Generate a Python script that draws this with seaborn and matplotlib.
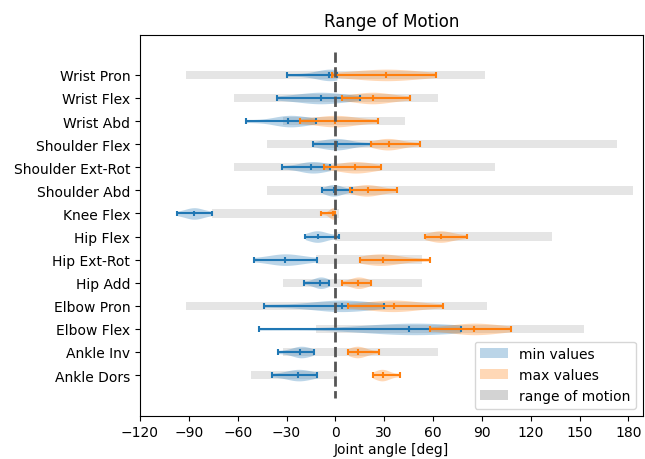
import numpy as np
import pandas as pd
import matplotlib
matplotlib.use("Agg")
import matplotlib.pyplot as plt
from matplotlib.patches import Patch
import seaborn as sns

# joints, top to bottom
joints = ["Wrist Pron", "Wrist Flex", "Wrist Abd", "Shoulder Flex", "Shoulder Ext-Rot",
          "Shoulder Abd", "Knee Flex", "Hip Flex", "Hip Ext-Rot", "Hip Add",
          "Elbow Pron", "Elbow Flex", "Ankle Inv", "Ankle Dors"]

# normal range of motion (gray bars)
range_lo = [-92, -62, -32, -42, -62, -42, -76, 0, -12, -32, -92, -12, -32, -52]
range_hi = [92, 63, 43, 173, 98, 183, 2, 133, 53, 53, 93, 153, 63, 1]

# measured minimum angles per joint
min_values = [
    [-30, -14, -7, -4, -2, 0, 1],
    [-36, -20, -14, -9, -5, 2, 15],
    [-55, -34, -31, -29, -26, -20, -12],
    [-14, -5, -1, 1, 3, 8, 22],
    [-33, -21, -17, -15, -12, -8, -3],
    [-8, -4, -2, -1, 1, 4, 10],
    [-97, -91, -88, -87, -85, -82, -76],
    [-18.5, -14, -12, -10.5, -9, -5, 2],
    [-50, -38, -34, -31, -27, -22, -11.5],
    [-19, -13, -11, -9.6, -8, -6, -3.7],
    [-44, -12, -2, 4, 6, 12, 30],
    [-47, 25, 38, 45, 52, 60, 77],
    [-35, -26, -23, -21.7, -20, -17, -13.3],
    [-39, -29, -25, -23, -21, -17, -11],
]

# measured maximum angles per joint
max_values = [
    [-2, 15, 25, 31, 37, 46, 62],
    [4, 15, 20, 23, 27, 33, 46],
    [-22, -8, -3, 0, 4, 10, 26.5],
    [22, 28, 31, 33, 36, 41, 52],
    [-7, 4, 9, 12, 15, 20, 28],
    [9, 15, 18, 20, 23, 28, 38],
    [-8.6, -4, -2.5, -1.6, -1, -0.5, 0],
    [55, 61, 63, 65, 68, 72, 81],
    [15, 23, 26, 29, 33, 40, 58],
    [4.3, 10, 12.5, 14, 15.5, 18, 22],
    [8, 24, 31, 36, 40, 48, 66],
    [58, 74, 80, 85, 90, 97, 108],
    [8, 11, 13, 14, 16, 19, 27],
    [23, 26.5, 28, 29, 30.5, 33, 40],
]

rows = []
for j, mins, maxs in zip(joints, min_values, max_values):
    rows += [(j, "min", v) for v in mins]
    rows += [(j, "max", v) for v in maxs]
df = pd.DataFrame(rows, columns=["joint", "kind", "angle"])

blue, orange = "#1f77b4", "#ff7f0e"

fig = plt.figure(figsize=(6.45, 4.6), dpi=100)
ax = fig.add_axes([140 / 645, 1 - 416.5 / 460, 503 / 645, 381 / 460])

pos = np.arange(len(joints))
ax.barh(pos, np.array(range_hi) - np.array(range_lo), left=range_lo, height=0.36,
        color="#e5e5e5", zorder=0)

sns.violinplot(data=df, x="angle", y="joint", hue="kind", order=joints,
               hue_order=["min", "max"], palette={"min": blue, "max": orange},
               orient="y", dodge=False, inner=None, cut=0, density_norm="width",
               width=0.5, linewidth=0, saturation=1, alpha=0.3, legend=False, ax=ax)

# min/max caps and median ticks
for vals, col in [(min_values, blue), (max_values, orange)]:
    for i, v in enumerate(vals):
        lo, hi, med = min(v), max(v), np.median(v)
        ax.hlines(i, lo, hi, colors=col, lw=1.5, zorder=3)
        ax.vlines([lo, hi, med], i - 0.125, i + 0.125, colors=col, lw=1.5, zorder=3)

ax.vlines(0, -1, 14, colors="#555555", linestyles="--", lw=2, zorder=5)

ax.set_xlim(-120, 189)
ax.set_ylim(14.75, -1.75)
ax.set_xticks(range(-120, 181, 30))
ax.set_xlabel("Joint angle [deg]", labelpad=2)
ax.set_ylabel("")
ax.set_title("Range of Motion")

handles = [Patch(facecolor=blue, alpha=0.3, label="min values"),
           Patch(facecolor=orange, alpha=0.3, label="max values"),
           Patch(facecolor="#d3d3d3", label="range of motion")]
ax.legend(handles=handles, loc="lower right")

fig.savefig("out.png")
